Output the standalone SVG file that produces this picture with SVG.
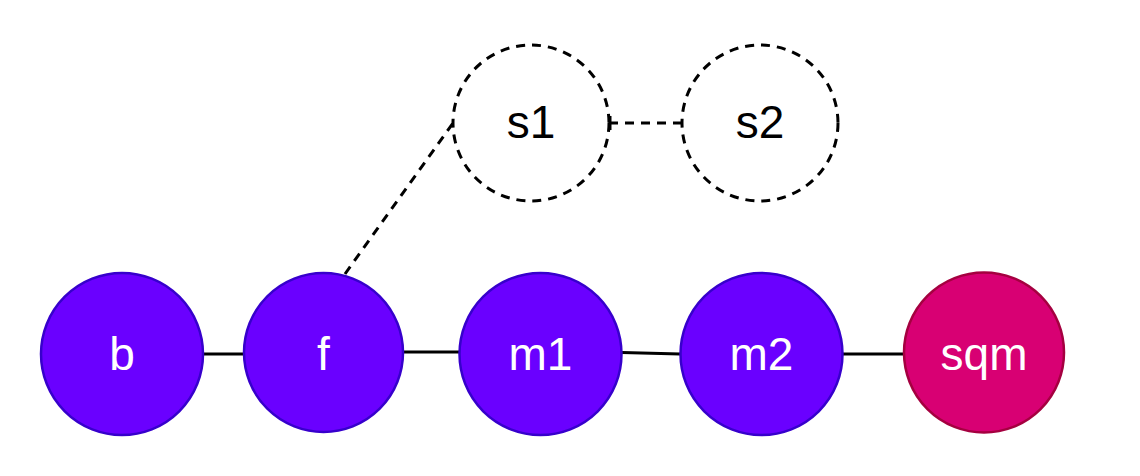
<svg xmlns="http://www.w3.org/2000/svg" width="1140" height="476" viewBox="0 0 1140 476">
<style>
.n{fill:#6a00ff;stroke:#3700cc;stroke-width:2.5}
.r{fill:#d80073;stroke:#a50040;stroke-width:2.5}
.d{fill:none;stroke:#000;stroke-width:3;stroke-dasharray:9 7}
.t{font-family:"Liberation Sans",Arial,sans-serif;font-size:46px;text-anchor:middle;fill:#fff}
.k{fill:#000}
.e{stroke:#000;stroke-width:3;fill:none}
.ed{stroke:#000;stroke-width:3;fill:none;stroke-dasharray:9 7}
</style>
<g id="connectors">
<line class="e" x1="203" y1="354" x2="244" y2="354"/>
<line class="e" x1="403" y1="352" x2="459" y2="352"/>
<line class="e" x1="622" y1="352.5" x2="680" y2="354"/>
<line class="e" x1="843" y1="354" x2="904" y2="354"/>
<line class="ed" x1="345" y1="274" x2="453" y2="123"/>
<line class="ed" x1="609" y1="123" x2="682" y2="123"/>
<line class="e" x1="610" y1="116" x2="610" y2="130"/>
</g>
<g id="b"><circle class="n" cx="122" cy="354" r="81"/><text class="t" x="122" y="370">b</text></g>
<g id="f"><circle class="n" cx="323.5" cy="352.5" r="79.5"/><text class="t" x="323.5" y="370">f</text></g>
<g id="m1"><circle class="n" cx="540.5" cy="354" r="81"/><text class="t" x="540.5" y="370">m1</text></g>
<g id="m2"><circle class="n" cx="761.5" cy="354" r="81"/><text class="t" x="761.5" y="370">m2</text></g>
<g id="sqm"><circle class="r" cx="984" cy="352.5" r="80"/><text class="t" x="984" y="370">sqm</text></g>
<g id="s1"><circle class="d" cx="531" cy="123" r="78"/><text class="t k" x="531" y="138">s1</text></g>
<g id="s2"><circle class="d" cx="760" cy="123" r="78"/><text class="t k" x="760" y="138">s2</text></g>
</svg>
